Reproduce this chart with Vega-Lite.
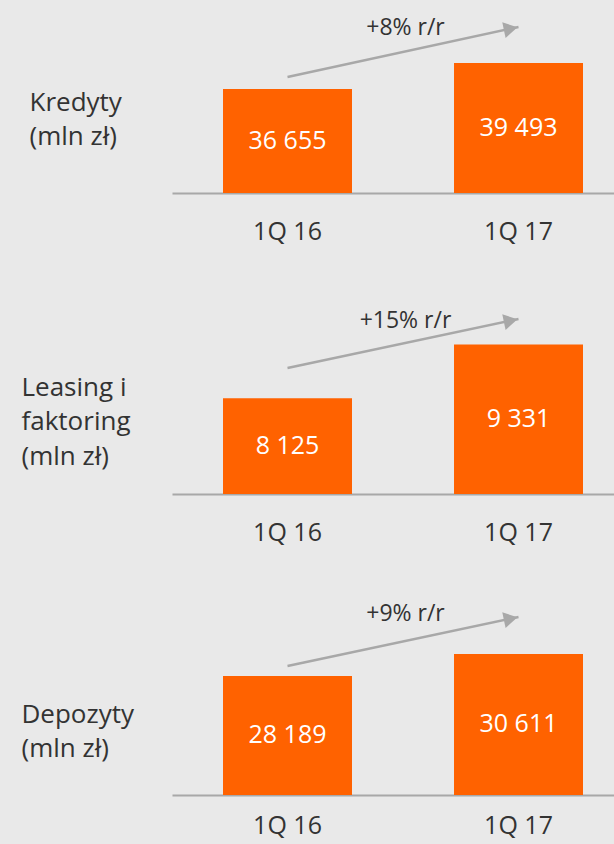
{
  "$schema": "https://vega.github.io/schema/vega-lite/v6.json",
  "background": "#e9e9e9",
  "padding": {"left": 21, "top": 0, "right": 0, "bottom": 6},
  "spacing": 108,
  "bounds": "flush",
  "config": {
    "font": "Open Sans",
    "view": {"stroke": null},
    "locale": {"number": {"decimal": ",", "thousands": " ", "grouping": [3], "currency": ["", ""]}},
    "axisX": {"domainColor": "#a8a8a8", "domainWidth": 2, "ticks": false, "tickSize": 0, "labelPadding": 38, "labelBaseline": "middle", "labelFontSize": 25, "labelColor": "#333333", "labelAngle": 0, "grid": false},
    "axisY": {"domain": false, "ticks": false, "labels": false, "grid": false, "titleAngle": 0, "titleAlign": "left", "titleBaseline": "middle", "titleFontSize": 26, "titleFontWeight": "normal", "titleColor": "#333333", "titleLineHeight": 34.5, "titlePadding": 0}
  },
  "datasets": {
    "k": [{"q": "1Q 16", "value": 36655}, {"q": "1Q 17", "value": 39493}],
    "ka": [{"q": "1Q 16", "y": 37965}, {"q": "1Q 17", "y": 43423}],
    "kg": [{"q": "1Q 16", "y": 42550, "label": "+8% r/r"}],
    "l": [{"q": "1Q 16", "value": 8125}, {"q": "1Q 17", "value": 9331}],
    "la": [{"q": "1Q 16", "y": 8805}, {"q": "1Q 17", "y": 9904}],
    "lg": [{"q": "1Q 16", "y": 9702, "label": "+15% r/r"}],
    "d": [{"q": "1Q 16", "value": 28189}, {"q": "1Q 17", "value": 30611}],
    "da": [{"q": "1Q 16", "y": 29290}, {"q": "1Q 17", "y": 34684}],
    "dg": [{"q": "1Q 16", "y": 34244, "label": "+9% r/r"}]
  },
  "vconcat": [
    {
      "width": 442, "height": 193,
      "resolve": {"scale": {"y": "independent"}, "axis": {"y": "independent"}},
      "layer": [
        {
          "data": {"name": "k"},
          "mark": {"type": "bar", "color": "#ff6200"},
          "encoding": {
            "x": {"field": "q", "type": "nominal", "sort": null, "title": null, "scale": {"paddingInner": 0.4416, "paddingOuter": 0.1775, "align": 0.622}},
            "y": {"field": "value", "type": "quantitative", "scale": {"domain": [25303, 46370], "zero": false, "nice": false}, "axis": {"title": ["Kredyty", "(mln zł)"], "titleX": -143, "titleY": 102}},
            "y2": {"datum": 25303}
          }
        },
        {
          "data": {"name": "k"},
          "mark": {"type": "text", "color": "white", "fontSize": 25, "baseline": "middle"},
          "encoding": {
            "x": {"field": "q", "type": "nominal", "sort": null, "title": null},
            "y": {"field": "value", "type": "quantitative", "scale": {"domain": [25303, 46370], "range": [193, 96.5], "zero": false, "nice": false}, "axis": null},
            "text": {"field": "value", "type": "quantitative", "format": ","}
          }
        },
        {
          "data": {"name": "ka"},
          "mark": {"type": "line", "color": "#a8a8a8", "strokeWidth": 2.5},
          "encoding": {
            "x": {"field": "q", "type": "nominal", "sort": null, "title": null},
            "y": {"field": "y", "type": "quantitative", "scale": {"domain": [25303, 46370], "zero": false, "nice": false}, "axis": null}
          }
        },
        {
          "data": {"name": "ka"},
          "transform": [{"filter": "datum.q == '1Q 17'"}],
          "mark": {"type": "point", "shape": "triangle-right", "size": 256, "angle": 348, "filled": true, "color": "#a8a8a8", "opacity": 1, "xOffset": -7.8, "yOffset": 1.7},
          "encoding": {
            "x": {"field": "q", "type": "nominal", "sort": null, "title": null},
            "y": {"field": "y", "type": "quantitative", "scale": {"domain": [25303, 46370], "zero": false, "nice": false}, "axis": null}
          }
        },
        {
          "data": {"name": "kg"},
          "mark": {"type": "text", "fontSize": 23, "color": "#333333", "baseline": "alphabetic", "dx": 118},
          "encoding": {
            "x": {"field": "q", "type": "nominal", "sort": null, "title": null},
            "y": {"field": "y", "type": "quantitative", "scale": {"domain": [25303, 46370], "zero": false, "nice": false}, "axis": null},
            "text": {"field": "label"}
          }
        }
      ]
    },
    {
      "width": 442, "height": 193,
      "resolve": {"scale": {"y": "independent"}, "axis": {"y": "independent"}},
      "layer": [
        {
          "data": {"name": "l"},
          "mark": {"type": "bar", "color": "#ff6200"},
          "encoding": {
            "x": {"field": "q", "type": "nominal", "sort": null, "title": null, "scale": {"paddingInner": 0.4416, "paddingOuter": 0.1775, "align": 0.622}},
            "y": {"field": "value", "type": "quantitative", "scale": {"domain": [5979, 10307], "zero": false, "nice": false}, "axis": {"title": ["Leasing i", "faktoring", "(mln zł)"], "titleX": -151, "titleY": 86}},
            "y2": {"datum": 5979}
          }
        },
        {
          "data": {"name": "l"},
          "mark": {"type": "text", "color": "white", "fontSize": 25, "baseline": "middle"},
          "encoding": {
            "x": {"field": "q", "type": "nominal", "sort": null, "title": null},
            "y": {"field": "value", "type": "quantitative", "scale": {"domain": [5979, 10307], "range": [193, 96.5], "zero": false, "nice": false}, "axis": null},
            "text": {"field": "value", "type": "quantitative", "format": ","}
          }
        },
        {
          "data": {"name": "la"},
          "mark": {"type": "line", "color": "#a8a8a8", "strokeWidth": 2.5},
          "encoding": {
            "x": {"field": "q", "type": "nominal", "sort": null, "title": null},
            "y": {"field": "y", "type": "quantitative", "scale": {"domain": [5979, 10307], "zero": false, "nice": false}, "axis": null}
          }
        },
        {
          "data": {"name": "la"},
          "transform": [{"filter": "datum.q == '1Q 17'"}],
          "mark": {"type": "point", "shape": "triangle-right", "size": 256, "angle": 348, "filled": true, "color": "#a8a8a8", "opacity": 1, "xOffset": -7.8, "yOffset": 1.7},
          "encoding": {
            "x": {"field": "q", "type": "nominal", "sort": null, "title": null},
            "y": {"field": "y", "type": "quantitative", "scale": {"domain": [5979, 10307], "zero": false, "nice": false}, "axis": null}
          }
        },
        {
          "data": {"name": "lg"},
          "mark": {"type": "text", "fontSize": 23, "color": "#333333", "baseline": "alphabetic", "dx": 118},
          "encoding": {
            "x": {"field": "q", "type": "nominal", "sort": null, "title": null},
            "y": {"field": "y", "type": "quantitative", "scale": {"domain": [5979, 10307], "zero": false, "nice": false}, "axis": null},
            "text": {"field": "label"}
          }
        }
      ]
    },
    {
      "width": 442, "height": 193,
      "resolve": {"scale": {"y": "independent"}, "axis": {"y": "independent"}},
      "layer": [
        {
          "data": {"name": "d"},
          "mark": {"type": "bar", "color": "#ff6200"},
          "encoding": {
            "x": {"field": "q", "type": "nominal", "sort": null, "title": null, "scale": {"paddingInner": 0.4416, "paddingOuter": 0.1775, "align": 0.622}, "axis": {"labelPadding": 30}},
            "y": {"field": "value", "type": "quantitative", "scale": {"domain": [15089, 36335], "zero": false, "nice": false}, "axis": {"title": ["Depozyty", "(mln zł)"], "titleX": -151, "titleY": 112}},
            "y2": {"datum": 15089}
          }
        },
        {
          "data": {"name": "d"},
          "mark": {"type": "text", "color": "white", "fontSize": 25, "baseline": "middle"},
          "encoding": {
            "x": {"field": "q", "type": "nominal", "sort": null, "title": null},
            "y": {"field": "value", "type": "quantitative", "scale": {"domain": [15089, 36335], "range": [193, 96.5], "zero": false, "nice": false}, "axis": null},
            "text": {"field": "value", "type": "quantitative", "format": ","}
          }
        },
        {
          "data": {"name": "da"},
          "mark": {"type": "line", "color": "#a8a8a8", "strokeWidth": 2.5},
          "encoding": {
            "x": {"field": "q", "type": "nominal", "sort": null, "title": null},
            "y": {"field": "y", "type": "quantitative", "scale": {"domain": [15089, 36335], "zero": false, "nice": false}, "axis": null}
          }
        },
        {
          "data": {"name": "da"},
          "transform": [{"filter": "datum.q == '1Q 17'"}],
          "mark": {"type": "point", "shape": "triangle-right", "size": 256, "angle": 348, "filled": true, "color": "#a8a8a8", "opacity": 1, "xOffset": -7.8, "yOffset": 1.7},
          "encoding": {
            "x": {"field": "q", "type": "nominal", "sort": null, "title": null},
            "y": {"field": "y", "type": "quantitative", "scale": {"domain": [15089, 36335], "zero": false, "nice": false}, "axis": null}
          }
        },
        {
          "data": {"name": "dg"},
          "mark": {"type": "text", "fontSize": 23, "color": "#333333", "baseline": "alphabetic", "dx": 118},
          "encoding": {
            "x": {"field": "q", "type": "nominal", "sort": null, "title": null},
            "y": {"field": "y", "type": "quantitative", "scale": {"domain": [15089, 36335], "zero": false, "nice": false}, "axis": null},
            "text": {"field": "label"}
          }
        }
      ]
    }
  ]
}
